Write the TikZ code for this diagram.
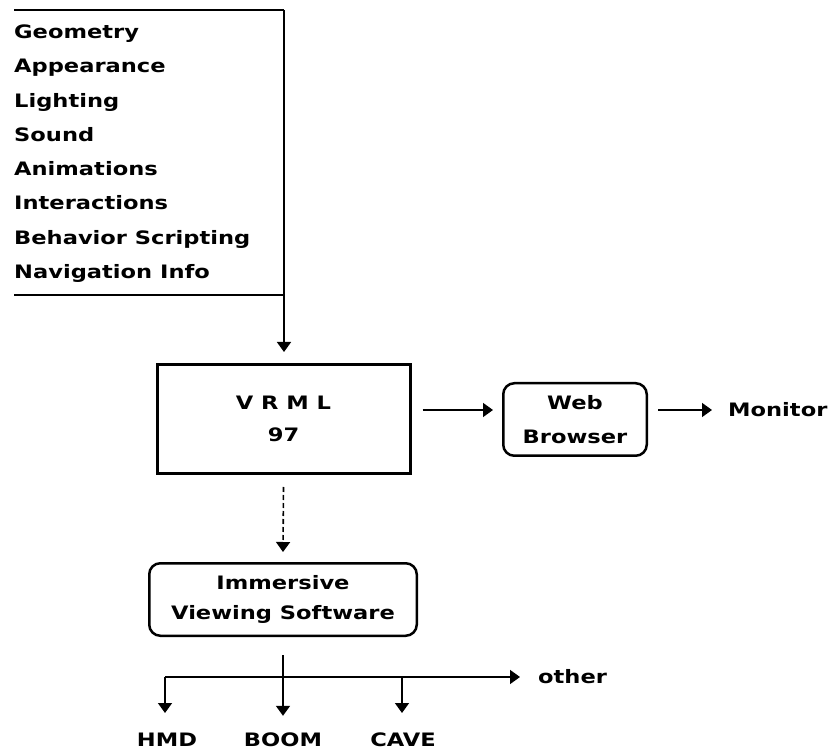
\documentclass[tikz,border=0pt]{standalone}
\usepackage{fontspec}
\newfontfamily\chic{DejaVu Sans}[FakeStretch=1.22]
\usetikzlibrary{arrows.meta,calc}
\begin{document}
\begin{tikzpicture}[x=1pt,y=-1pt,
  lbl/.style={font=\chic\bfseries\fontsize{18.5}{32}\selectfont, inner sep=0pt, align=center},
  arr/.style={line width=1.6pt, -{Triangle[width=14pt,length=10pt]}},
  thin/.style={line width=1.6pt},
  sqbox/.style={draw, line width=3pt, align=center, inner sep=0pt},
  rbox/.style={draw, line width=2.5pt, rounded corners=11pt, align=center, inner sep=0pt}]
\useasboundingbox (0,0) rectangle (831,751);
% list of features
\foreach \t [count=\i from 0] in {Geometry,Appearance,Lighting,Sound,Animations,Interactions,Behavior Scripting,Navigation Info}
  \node[lbl, align=left, anchor=base west] (item\i) at (14,{38.5+34.3*\i}) {\t};
\coordinate (tl) at (14,10);
\coordinate (tr) at (284,10);
\coordinate (bl) at (14,295);
\coordinate (br) at (284,295);
\draw[thin] (tl) -- (tr);
\draw[thin] (bl) -- (br);
% VRML box
\node[sqbox, minimum width=253pt, minimum height=109pt, font=\chic\bfseries\fontsize{18.5}{32}\selectfont] (vrml) at (283.5,419) {V R M L\\97};
\draw[arr] (tr) -- ($(vrml.north)+(0.5,-11)$);
% Web browser
\node[rbox, minimum width=143.5pt, minimum height=72.5pt, font=\chic\bfseries\fontsize{18.5}{34}\selectfont] (web) at (575,419.5) {Web\\Browser};
\node[lbl, anchor=west] (mon) at (728,410) {Monitor};
\draw[arr] ($(vrml.east |- mon.west)+(11,0)$) -- ($(web.west |- mon.west)+(-9,0)$);
\draw[arr] ($(web.east |- mon.west)+(10,0)$) -- ($(mon.west)+(-16,0)$);
% Immersive
\node[rbox, minimum width=267.5pt, minimum height=72.5pt, font=\chic\bfseries\fontsize{18.5}{30}\selectfont] (imm) at (283,599.5) {Immersive\\Viewing Software};
\draw[arr, dash pattern=on 5pt off 3pt] ($(vrml.south)+(0,12)$) -- ($(imm.north)+(0,-10)$);
% outputs
\node[lbl] (hmd) at (167,740) {HMD};
\node[lbl] (boom) at (283,740) {BOOM};
\node[lbl] (cave) at (403,740) {CAVE};
\node[lbl, anchor=west] (other) at (538,677) {other};
\coordinate (hl) at (165,677);
\draw[arr] ($(imm.south)+(0,18)$) -- ($(boom.north)+(0,-17)$);
\draw[thin] (hl) -- ($(other.west)+(-30,0)$);
\draw[arr] ($(other.west)+(-30,0)$) -- ($(other.west)+(-18,0)$);
\draw[arr] (hl) -- (hl |- 0,713);
\draw[arr] (402,677) -- (402,713);
\end{tikzpicture}
\end{document}
